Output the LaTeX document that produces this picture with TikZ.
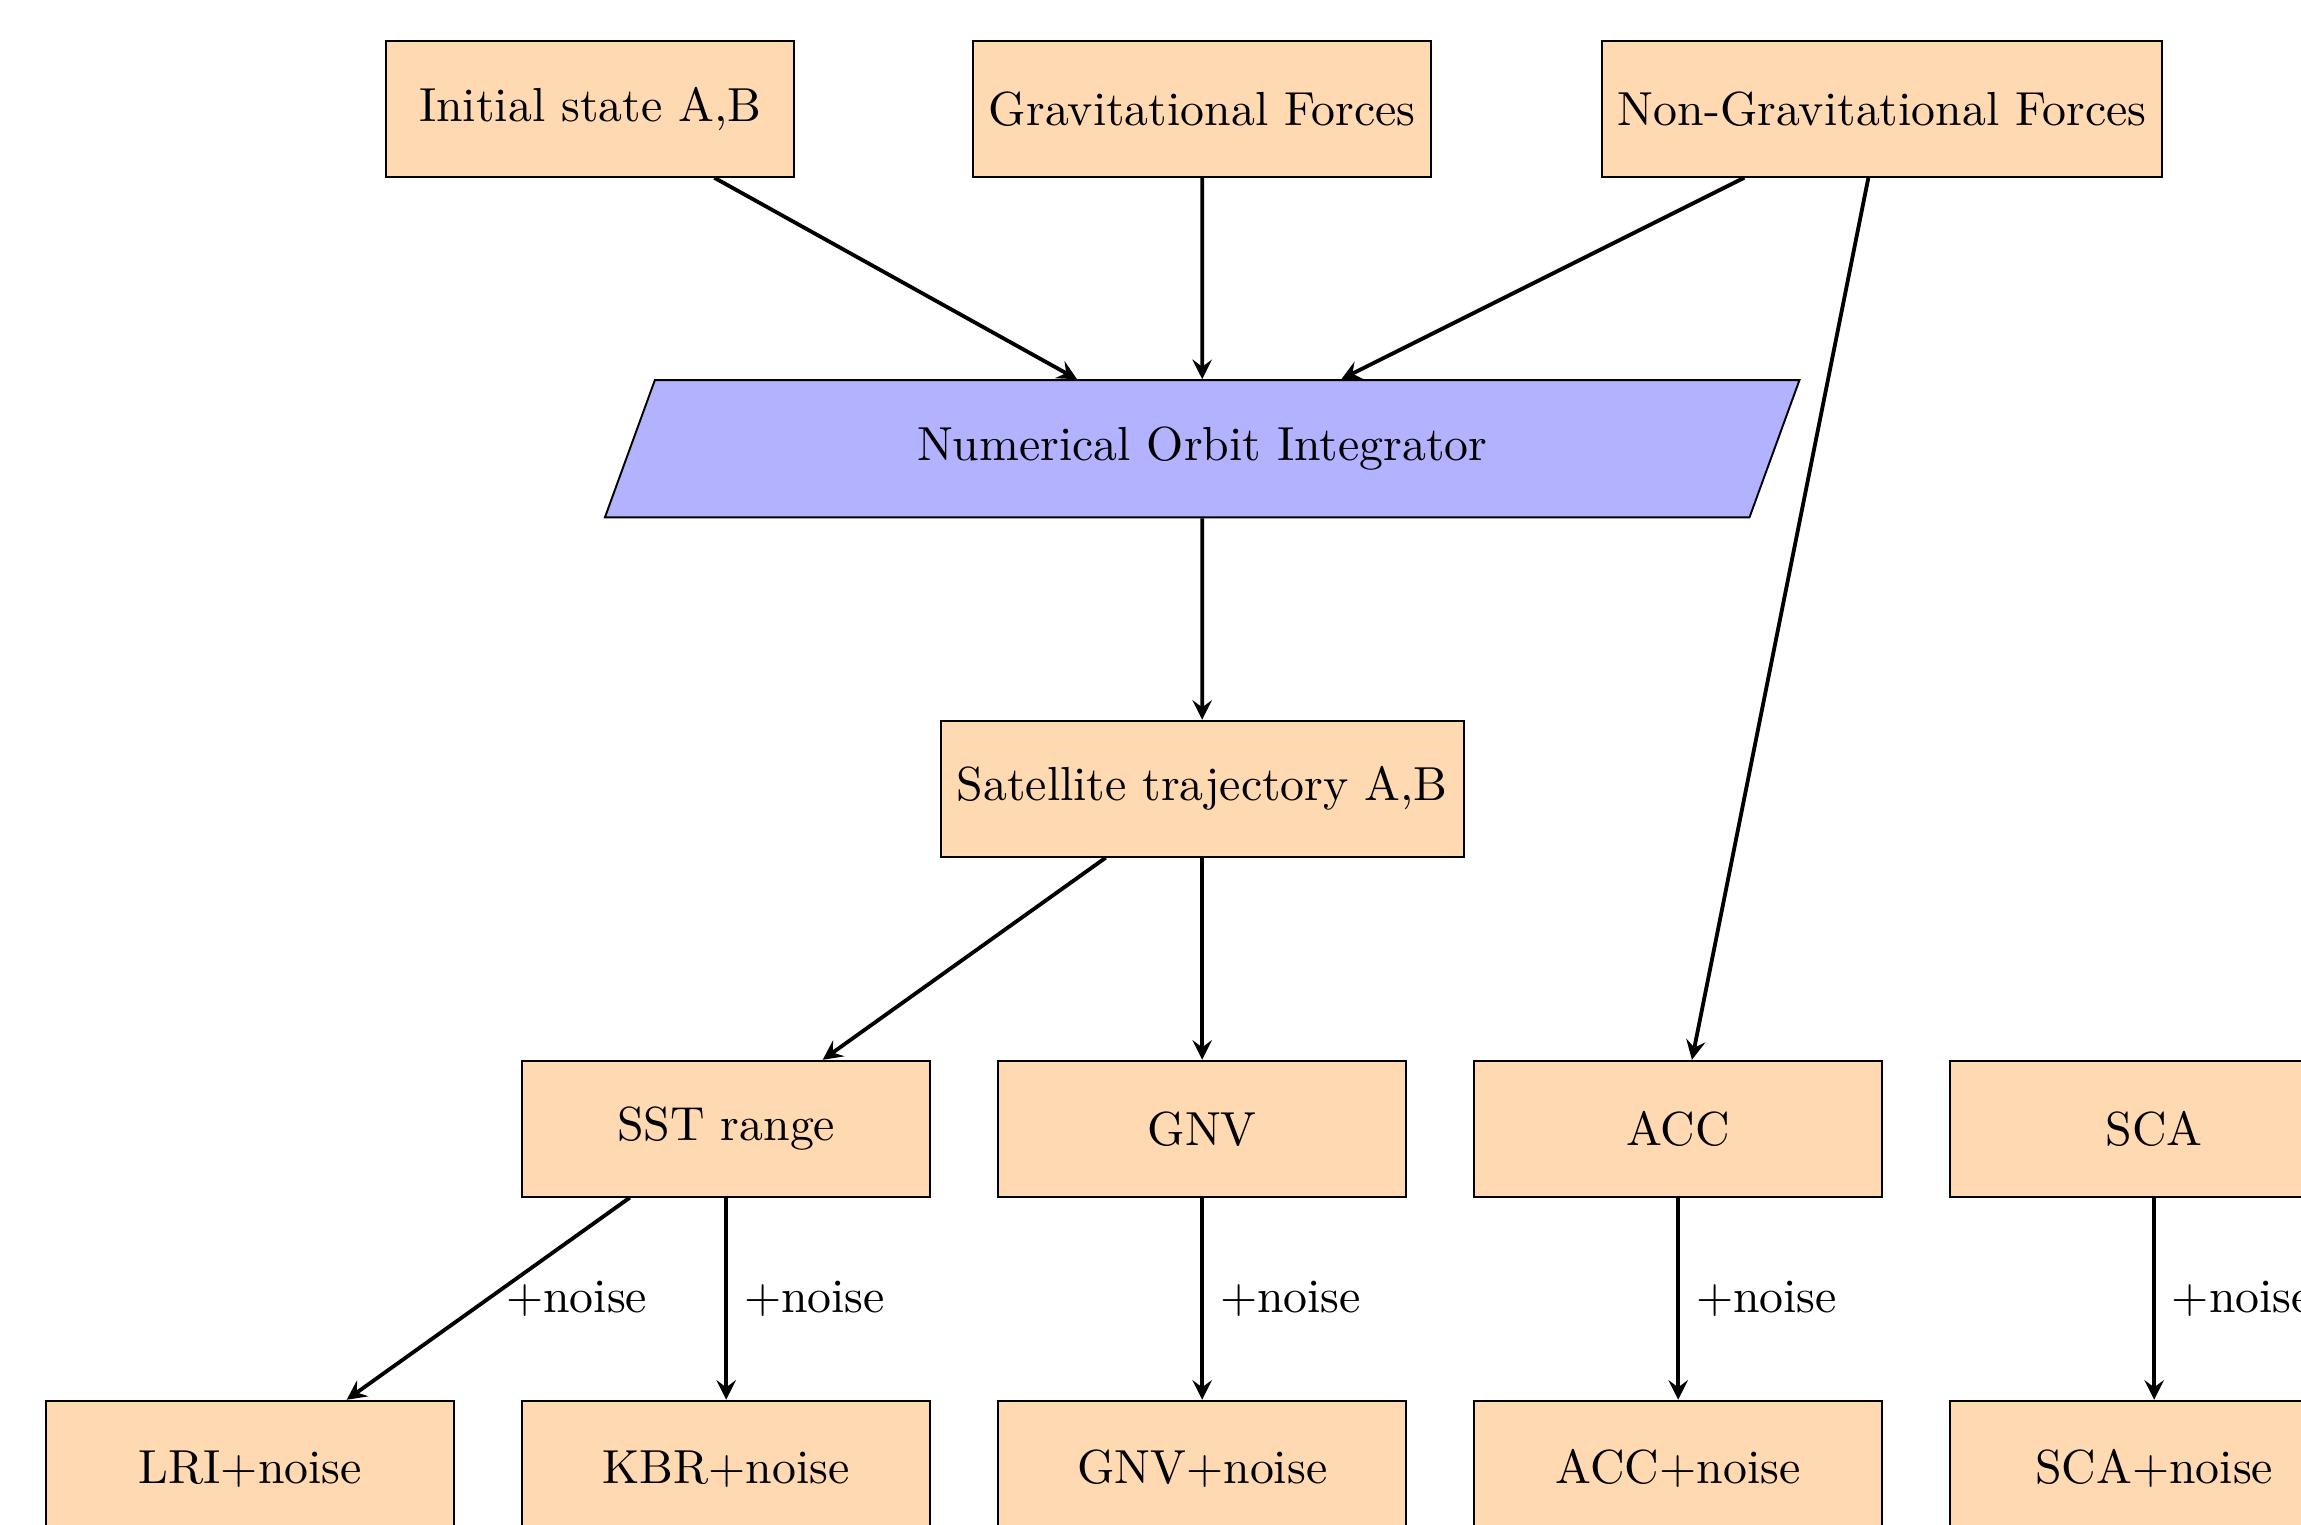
\documentclass[tikz,border=0pt]{standalone}
\usetikzlibrary{shapes.geometric}
\begin{document}
\begin{tikzpicture}[
    box/.style={draw, fill=orange!30, minimum width=3cm, minimum height=1cm},
    proc/.style={draw, fill=blue!30, trapezium, trapezium left angle=70,
      trapezium right angle=110, minimum width=8.8cm, minimum height=1cm},
    conn/.style={thick, >=stealth, ->}]
  \useasboundingbox (-8.84,0.80) rectangle (8.08,-10.41);
  \clip (-8.84,0.80) rectangle (8.08,-10.41);
  \node[box] (init) at (-4.5,0) {Initial state A,B};
  \node[box] (grav) at (0,0) {Gravitational Forces};
  \node[box] (ngrav) at (5,0) {Non-Gravitational Forces};
  \node[proc] (noi) at (0,-2.5) {Numerical Orbit Integrator};
  \node[box] (traj) at (0,-5) {Satellite trajectory A,B};
  \node[box] (sst) at (-3.5,-7.5) {SST range};
  \node[box] (gnv) at (0,-7.5) {GNV};
  \node[box] (acc) at (3.5,-7.5) {ACC};
  \node[box] (sca) at (7,-7.5) {SCA};
  \node[box] (lri) at (-7,-10) {LRI+noise};
  \node[box] (kbr) at (-3.5,-10) {KBR+noise};
  \node[box] (gnvn) at (0,-10) {GNV+noise};
  \node[box] (accn) at (3.5,-10) {ACC+noise};
  \node[box] (scan) at (7,-10) {SCA+noise};
  \draw [conn] (init) -- (noi);
  \draw [conn] (grav) -- (noi);
  \draw [conn] (ngrav) -- (noi);
  \draw [conn] (ngrav) -- (acc);
  \draw [conn] (noi) -- (traj);
  \draw [conn] (traj) -- (sst);
  \draw [conn] (traj) -- (gnv);
  \draw [conn] (sst) -- node[right] {+noise} (lri);
  \draw [conn] (sst) -- node[right] {+noise} (kbr);
  \draw [conn] (gnv) -- node[right] {+noise} (gnvn);
  \draw [conn] (acc) -- node[right] {+noise} (accn);
  \draw [conn] (sca) -- node[right] {+noise} (scan);
\end{tikzpicture}
\end{document}
